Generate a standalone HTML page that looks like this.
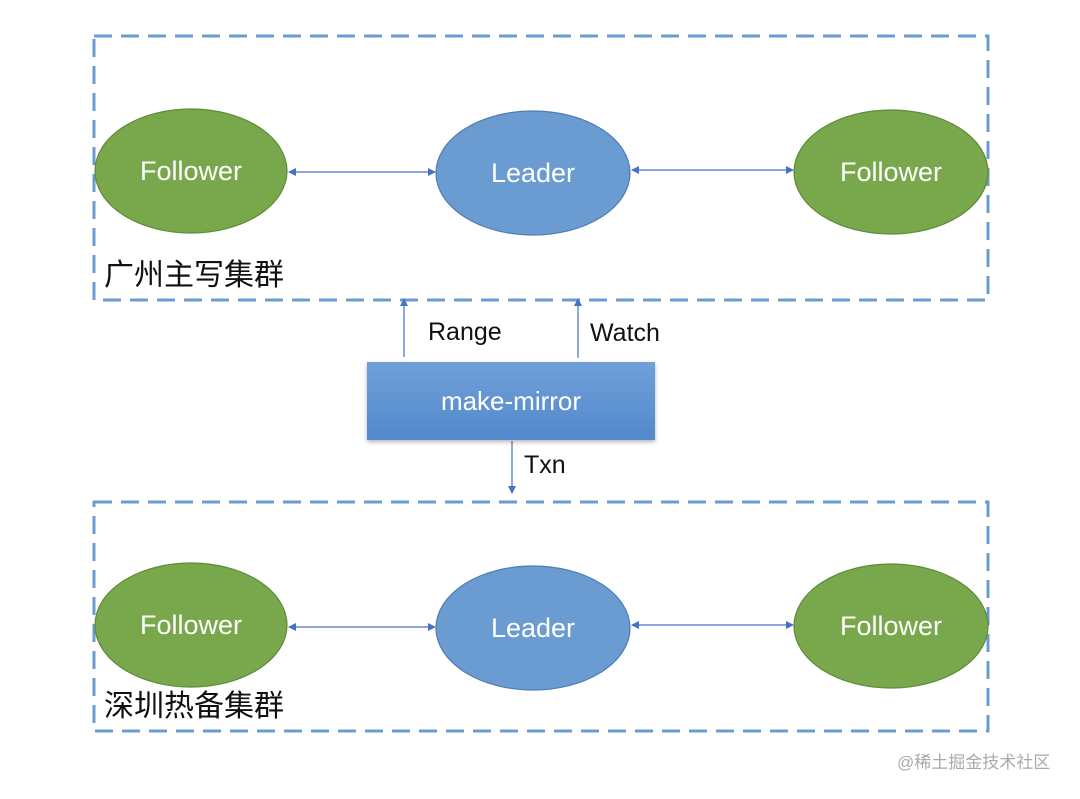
<!DOCTYPE html>
<html><head><meta charset="utf-8"><style>
html,body{margin:0;padding:0;background:#fff;}
svg text{font-family:"Liberation Sans","Noto Sans CJK SC",sans-serif;}
</style></head><body>
<svg width="1080" height="794" viewBox="0 0 1080 794" xmlns="http://www.w3.org/2000/svg">
<defs>
<marker id="a" markerWidth="8" markerHeight="8" refX="7" refY="4" orient="auto" markerUnits="userSpaceOnUse">
<path d="M0,0 L8,4 L0,8 z" fill="#4472c4"/></marker>
<marker id="b" markerWidth="8" markerHeight="8" refX="1" refY="4" orient="auto" markerUnits="userSpaceOnUse">
<path d="M8,0 L0,4 L8,8 z" fill="#4472c4"/></marker>
<linearGradient id="g" x1="0" y1="0" x2="0" y2="1">
<stop offset="0" stop-color="#6fa0d8"/><stop offset="1" stop-color="#5389cc"/></linearGradient>
<filter id="s" x="-10%" y="-10%" width="120%" height="130%"><feDropShadow dx="0" dy="2" stdDeviation="2" flood-opacity="0.3"/></filter>
</defs>
<g fill="none" stroke="#6a9bd1" stroke-width="3" stroke-dasharray="18,9">
<rect x="94" y="36" width="894" height="264"/>
<rect x="94" y="502" width="894" height="229"/>
</g>
<g stroke-width="1.2">
<ellipse cx="191" cy="171" rx="96" ry="62" fill="#78a84b" stroke="#5f8a3a"/>
<ellipse cx="533" cy="173" rx="97" ry="62" fill="#6a9bd1" stroke="#4d7db5"/>
<ellipse cx="891" cy="172" rx="97" ry="62" fill="#78a84b" stroke="#5f8a3a"/>
<ellipse cx="191" cy="625" rx="96" ry="62" fill="#78a84b" stroke="#5f8a3a"/>
<ellipse cx="533" cy="628" rx="97" ry="62" fill="#6a9bd1" stroke="#4d7db5"/>
<ellipse cx="891" cy="626" rx="97" ry="62" fill="#78a84b" stroke="#5f8a3a"/>
</g>
<g fill="#fff" font-size="27" text-anchor="middle">
<text x="191" y="180">Follower</text>
<text x="533" y="182">Leader</text>
<text x="891" y="181">Follower</text>
<text x="191" y="634">Follower</text>
<text x="533" y="637">Leader</text>
<text x="891" y="635">Follower</text>
</g>
<g stroke="#4472c4" stroke-width="1.2" marker-start="url(#b)" marker-end="url(#a)">
<line x1="289" y1="172" x2="435" y2="172"/>
<line x1="632" y1="170" x2="793" y2="170"/>
<line x1="289" y1="627" x2="435" y2="627"/>
<line x1="632" y1="625" x2="793" y2="625"/>
</g>
<g stroke="#4472c4" stroke-width="1.2" marker-end="url(#a)">
<line x1="404" y1="357" x2="404" y2="299"/>
<line x1="578" y1="358" x2="578" y2="299"/>
<line x1="512" y1="441" x2="512" y2="493"/>
</g>
<rect x="367" y="362" width="288" height="78" fill="url(#g)" filter="url(#s)"/>
<text x="511" y="410" fill="#fff" font-size="26" text-anchor="middle">make-mirror</text>
<g fill="#111" font-size="25">
<text x="428" y="340">Range</text>
<text x="590" y="341">Watch</text>
<text x="524" y="473">Txn</text>
</g>
<g fill="#111" font-size="30">
<text x="104" y="285">广州主写集群</text>
<text x="104" y="716">深圳热备集群</text>
</g>
<text x="897" y="768" fill="#aaa" font-size="17">@稀土掘金技术社区</text>
</svg>
</body></html>
